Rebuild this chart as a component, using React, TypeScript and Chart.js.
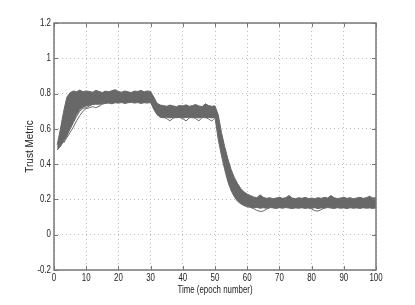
import React, { useEffect, useRef } from 'react';
import { Chart, registerables } from 'chart.js';

Chart.register(...registerables);

// epochs 1..100
const epochs: number[] = Array.from({ length: 100 }, (_, i) => i + 1);

// upper edge of the bundle of trust traces (epochs 1..100)
const upperEdge: number[] = [
  0.51, 0.6, 0.7, 0.78, 0.805, 0.815, 0.81, 0.82, 0.81, 0.815,
  0.812, 0.808, 0.818, 0.812, 0.806, 0.814, 0.81, 0.816, 0.822, 0.812,
  0.808, 0.815, 0.81, 0.806, 0.814, 0.812, 0.818, 0.81, 0.815, 0.812,
  0.78, 0.745, 0.735, 0.732, 0.728, 0.735, 0.73, 0.726, 0.733, 0.73,
  0.736, 0.728, 0.732, 0.738, 0.73, 0.726, 0.742, 0.732, 0.728, 0.73,
  0.68, 0.58, 0.5, 0.43, 0.37, 0.325, 0.29, 0.262, 0.243, 0.23,
  0.222, 0.214, 0.21, 0.226, 0.212, 0.206, 0.21, 0.204, 0.208, 0.212,
  0.206, 0.21, 0.222, 0.208, 0.204, 0.21, 0.206, 0.212, 0.205, 0.208,
  0.204, 0.21, 0.206, 0.212, 0.208, 0.222, 0.21, 0.205, 0.208, 0.212,
  0.206, 0.21, 0.204, 0.208, 0.212, 0.206, 0.21, 0.218, 0.208, 0.21,
];

// lower edge of the bundle (epochs 1..100)
const lowerEdge: number[] = [
  0.48, 0.5, 0.53, 0.56, 0.6, 0.64, 0.68, 0.71, 0.722, 0.73,
  0.734, 0.738, 0.74, 0.739, 0.742, 0.744, 0.746, 0.742, 0.748, 0.746,
  0.749, 0.744, 0.748, 0.75, 0.746, 0.749, 0.744, 0.748, 0.746, 0.75,
  0.71, 0.68, 0.666, 0.663, 0.666, 0.662, 0.665, 0.663, 0.666, 0.662,
  0.664, 0.666, 0.663, 0.665, 0.662, 0.666, 0.663, 0.665, 0.662, 0.666,
  0.54, 0.45, 0.37, 0.3, 0.25, 0.215, 0.19, 0.175, 0.165, 0.158,
  0.155, 0.152, 0.155, 0.15, 0.153, 0.15, 0.154, 0.152, 0.149, 0.153,
  0.15, 0.154, 0.151, 0.148, 0.152, 0.15, 0.153, 0.149, 0.152, 0.15,
  0.153, 0.148, 0.152, 0.15, 0.154, 0.151, 0.149, 0.153, 0.15, 0.152,
  0.148, 0.153, 0.15, 0.152, 0.149, 0.153, 0.15, 0.152, 0.149, 0.152,
];

// individual traces that stray from the bundle
const slowTraceA_x: number[] = [3, 4, 5, 6, 7, 8, 9, 10, 11, 12, 13, 14, 15, 16];
const slowTraceA_y: number[] = [0.52, 0.55, 0.58, 0.61, 0.645, 0.675, 0.7, 0.715, 0.72, 0.726, 0.72, 0.728, 0.74, 0.746];
const slowTraceB_x: number[] = [5, 6, 7, 8, 9, 10, 11, 12, 13];
const slowTraceB_y: number[] = [0.6, 0.635, 0.67, 0.7, 0.716, 0.72, 0.73, 0.74, 0.745];
const dipTraceC_x: number[] = [33, 34, 35, 36, 37, 38, 39, 40, 41, 42, 43, 44, 45, 46, 47, 48, 49, 50];
const dipTraceC_y: number[] = [0.668, 0.666, 0.658, 0.646, 0.66, 0.666, 0.664, 0.658, 0.645, 0.662, 0.666, 0.658, 0.646, 0.663, 0.666, 0.656, 0.644, 0.663];
const dipTraceD_x: number[] = [61, 62, 63, 64, 65, 66, 67];
const dipTraceD_y: number[] = [0.155, 0.148, 0.138, 0.132, 0.134, 0.145, 0.152];
const dipTraceE_x: number[] = [79, 80, 81, 82, 83, 84];
const dipTraceE_y: number[] = [0.152, 0.146, 0.136, 0.134, 0.142, 0.152];

const xTickStep = 10;
const yTickStep = 0.2;
const xTitle = 'Time (epoch number)';
const yTitle = 'Trust Metric';

const LINE = '#686868';
const FRAME = '#787878';
const GRID = '#bdbdbd';
const TEXT = '#222222';
const FONT_FAMILY = "'Liberation Sans', Arial, sans-serif";
const FONT = `10px ${FONT_FAMILY}`;
const SQUEEZE = 0.79; // horizontal text in the reference is narrow

const pts = (xs: number[], ys: number[]) => xs.map((x, i) => ({ x, y: ys[i] }));

function narrowText(ctx: CanvasRenderingContext2D, text: string, x: number, y: number, align: CanvasTextAlign, baseline: CanvasTextBaseline) {
  ctx.save();
  ctx.translate(x, y);
  ctx.scale(SQUEEZE, 1);
  ctx.textAlign = align;
  ctx.textBaseline = baseline;
  ctx.fillText(text, 0, 0);
  ctx.restore();
}

const framePlugin = {
  id: 'matlabFrame',
  afterDatasetsDraw(chart: any) {
    const { ctx, chartArea, scales } = chart;
    const { left, right, top, bottom } = chartArea;
    const xs = scales.x;
    const ys = scales.y;
    ctx.save();
    ctx.strokeStyle = FRAME;
    ctx.lineWidth = 1.5;
    ctx.strokeRect(left, top, right - left, bottom - top);
    ctx.beginPath();
    const tl = 4;
    xs.ticks.forEach((t: any) => {
      const px = Math.round(xs.getPixelForValue(t.value)) + 0.5;
      ctx.moveTo(px, bottom);
      ctx.lineTo(px, bottom - tl);
      ctx.moveTo(px, top);
      ctx.lineTo(px, top + tl);
    });
    ys.ticks.forEach((t: any) => {
      const py = Math.round(ys.getPixelForValue(t.value)) + 0.5;
      ctx.moveTo(left, py);
      ctx.lineTo(left + tl, py);
      ctx.moveTo(right, py);
      ctx.lineTo(right - tl, py);
    });
    ctx.lineWidth = 1;
    ctx.stroke();

    // tick labels and x title (narrow horizontal text)
    ctx.fillStyle = TEXT;
    ctx.font = FONT;
    xs.ticks.forEach((t: any) => {
      narrowText(ctx, String(t.label), xs.getPixelForValue(t.value), bottom + 3, 'center', 'top');
    });
    ys.ticks.forEach((t: any) => {
      narrowText(ctx, String(t.label), left - 3, ys.getPixelForValue(t.value), 'right', 'middle');
    });
    narrowText(ctx, xTitle, (left + right) / 2, bottom + 20.5, 'center', 'middle');
    ctx.restore();
  },
};

export default function App() {
  const ref = useRef<HTMLCanvasElement | null>(null);

  useEffect(() => {
    if (!ref.current) return;
    const lineDs = (data: any[], extra: any = {}) => ({
      data,
      borderColor: LINE,
      borderWidth: 1,
      pointRadius: 0,
      tension: 0,
      fill: false,
      ...extra,
    });
    const chart = new Chart(ref.current, {
      type: 'line',
      data: {
        datasets: [
          lineDs(pts(epochs, upperEdge)),
          lineDs(pts(epochs, lowerEdge), { fill: '-1', backgroundColor: LINE }),
          lineDs(pts(slowTraceA_x, slowTraceA_y)),
          lineDs(pts(slowTraceB_x, slowTraceB_y)),
          lineDs(pts(dipTraceC_x, dipTraceC_y)),
          lineDs(pts(dipTraceD_x, dipTraceD_y)),
          lineDs(pts(dipTraceE_x, dipTraceE_y)),
        ],
      },
      options: {
        animation: false,
        responsive: false,
        devicePixelRatio: 1,
        layout: { padding: { top: 23, right: 39, left: 0, bottom: 0 } },
        plugins: {
          legend: { display: false },
          tooltip: { enabled: false },
        },
        scales: {
          x: {
            type: 'linear',
            min: 0,
            max: 100,
            ticks: {
              stepSize: xTickStep,
              display: false,
              callback: (v: any) => String(v),
            },
            grid: { color: GRID, lineWidth: 1, drawTicks: false },
            border: { display: false, dash: [1, 3] },
            title: { display: false, text: xTitle },
            afterFit: (s: any) => {
              s.height = 35;
            },
          },
          y: {
            type: 'linear',
            min: -0.2,
            max: 1.2,
            ticks: {
              stepSize: yTickStep,
              display: false,
              callback: (v: any) => String(Math.round(Number(v) * 10) / 10),
            },
            grid: { color: GRID, lineWidth: 1, drawTicks: false },
            border: { display: false, dash: [1, 3] },
            title: {
              display: true,
              text: yTitle,
              color: TEXT,
              font: { family: FONT_FAMILY, size: 10 },
              padding: { top: 24, bottom: 0 },
            },
            afterFit: (s: any) => {
              s.width = 54;
            },
          },
        },
      } as any,
      plugins: [framePlugin],
    });
    return () => chart.destroy();
  }, []);

  return (
    <div style={{ position: 'fixed', left: 0, top: 0, width: 415, height: 305, background: '#fff' }}>
      <canvas ref={ref} width={415} height={305} style={{ display: 'block' }} />
    </div>
  );
}
